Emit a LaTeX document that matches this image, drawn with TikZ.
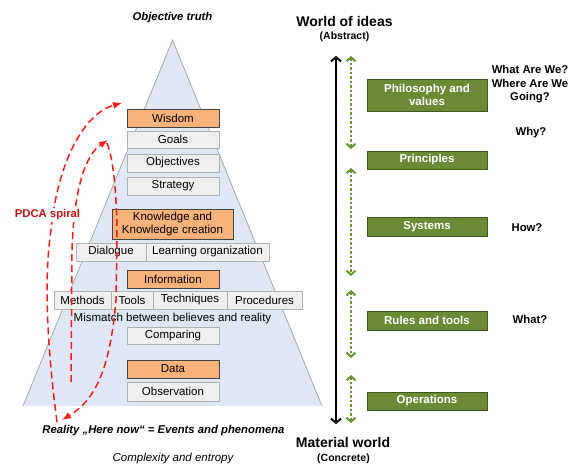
\documentclass[tikz,border=0pt]{standalone}
\usepackage{fontspec}
\setmainfont{Liberation Sans}
\usetikzlibrary{arrows.meta}
\definecolor{trifill}{HTML}{DFE7F5}
\definecolor{triedge}{HTML}{A8A8A8}
\definecolor{orfill}{HTML}{F8B27A}
\definecolor{oredge}{HTML}{434343}
\definecolor{gyfill}{HTML}{EFEFEF}
\definecolor{gyedge}{HTML}{B0B0B0}
\definecolor{grfill}{HTML}{6A8A35}
\definecolor{gredge}{HTML}{3D5A1A}
\definecolor{grdot}{HTML}{6B9334}
\definecolor{pdcared}{HTML}{FF1A1A}
\definecolor{pdcatext}{HTML}{CC1111}
\tikzset{
  base/.style={inner sep=0pt, outer sep=0pt, font=\fontsize{11.5}{13.5}\selectfont, align=center},
  obox/.style={base, draw=oredge, fill=orfill, line width=0.9pt},
  gbox/.style={base, draw=gyedge, fill=gyfill, line width=0.8pt},
  grbox/.style={base, draw=gredge, fill=grfill, line width=0.9pt, text=white, font=\fontsize{11.5}{13.5}\selectfont\bfseries, minimum width=120pt},
  lbl/.style={base},
  pdca/.style={draw=pdcared, line width=1.5pt, dash pattern=on 7pt off 4pt},
  pdcahead/.style={-{Latex[length=9pt,width=7pt]}},
  gdots/.style={draw=grdot, line width=2.4pt, dash pattern=on 2.5pt off 2pt, {Straight Barb[length=4pt,width=9pt,line width=2pt]}-{Straight Barb[length=4pt,width=9pt,line width=2pt]}},
}
\begin{document}
\begin{tikzpicture}[x=1pt,y=-1pt]
\useasboundingbox (0,0) rectangle (574,466);
% pyramid
\coordinate (apex) at (172.5,40);
\coordinate (bl) at (23,406);
\coordinate (br) at (322,406);
\fill[trifill] (apex) -- (br) -- (bl) -- cycle;
\draw[triedge, line width=0.8pt] (bl) -- (apex) -- (br);
% boxes
\node[obox, minimum width=92pt, minimum height=18pt] (wisdom) at (173,118) {Wisdom};
\node[gbox, minimum width=92pt, minimum height=17pt] (goals) at (173,139.5) {Goals};
\node[gbox, minimum width=92pt, minimum height=18pt] (objectives) at (173,163) {Objectives};
\node[gbox, minimum width=92pt, minimum height=18pt] (strategy) at (173,186) {Strategy};
\node[obox, minimum width=121pt, minimum height=30pt] (knowledge) at (172.5,224) {Knowledge and\\Knowledge creation};
\node[gbox, minimum width=70pt, minimum height=18pt] (dialogue) at (111,252) {Dialogue};
\node[gbox, minimum width=123pt, minimum height=18pt] (learning) at (207.5,252) {Learning organization};
\node[obox, minimum width=92pt, minimum height=18pt] (information) at (173,279) {Information};
\node[gbox, minimum width=57pt, minimum height=18pt] (methods) at (82.5,300) {Methods};
\node[gbox, minimum width=42pt, minimum height=18pt] (tools) at (132,300) {Tools};
\node[gbox, minimum width=74pt, minimum height=18pt] (techniques) at (190,300) {Techniques};
\node[gbox, minimum width=75pt, minimum height=18pt] (procedures) at (264.5,300) {Procedures};
\node[lbl] (mismatch) at (172.5,319) {Mismatch between believes and reality};
\node[gbox, minimum width=92pt, minimum height=17pt] (comparing) at (173,335.5) {Comparing};
\node[obox, minimum width=92pt, minimum height=18pt] (data) at (173,369) {Data};
\node[gbox, minimum width=92pt, minimum height=19pt] (observation) at (173,391.5) {Observation};
% texts
\node[lbl, font=\fontsize{11.3}{13}\selectfont\bfseries\itshape] (objtruth) at (172.5,18) {Objective truth};
\node[lbl, font=\fontsize{11.3}{13}\selectfont\bfseries\itshape] (reality) at (163.5,431) {Reality „Here now“ = Events and phenomena};
\node[lbl, font=\fontsize{11.5}{13}\selectfont\itshape] (complexity) at (173,459) {Complexity and entropy};
% PDCA spiral
\coordinate (o0) at (57,422);
\coordinate (o1) at (51,230);
\coordinate (o2) at (122,103);
\draw[pdca, pdcahead] (o0) .. controls (45,330) and (45,270) .. (o1) .. controls (58,160) and (85,113) .. (o2);
\coordinate (i0) at (71,382);
\coordinate (i1) at (72,250);
\coordinate (i2) at (108,140);
\draw[pdca, pdcahead] (i0) -- (i1) .. controls (74,190) and (85,155) .. (i2);
\coordinate (r0) at (107,143);
\coordinate (r1) at (117,240);
\coordinate (r2) at (116,300);
\coordinate (r3) at (62,420);
\draw[pdca, pdcahead] (r0) .. controls (114,160) and (117,200) .. (r1) -- (r2) .. controls (110,370) and (95,400) .. (r3);
\node[lbl, font=\fontsize{11.3}{13}\selectfont\bfseries, text=pdcatext, fill=white, inner sep=1.5pt] (pdcalbl) at (47.5,215) {PDCA spiral};
% right side
\node[lbl, font=\fontsize{14}{16}\selectfont\bfseries] (world) at (344.5,21) {World of ideas};
\node[lbl, font=\fontsize{10.5}{12}\selectfont\bfseries] (abstract) at (344.5,37) {(Abstract)};
\node[lbl, font=\fontsize{14}{16}\selectfont\bfseries] (material) at (343,442) {Material world};
\node[lbl, font=\fontsize{10.5}{12}\selectfont\bfseries] (concrete) at (343.5,459) {(Concrete)};
\coordinate (ab0) at (336,56);
\coordinate (ab1) at (336,424);
\draw[line width=2pt, {Straight Barb[length=4pt,width=10pt,line width=2pt]}-{Straight Barb[length=4pt,width=10pt,line width=2pt]}] (ab0) -- (ab1);
\coordinate (g1a) at (351,56);  \coordinate (g1b) at (351,149);
\coordinate (g2a) at (351,168); \coordinate (g2b) at (351,276);
\coordinate (g3a) at (351,290); \coordinate (g3b) at (351,358);
\coordinate (g4a) at (351,375); \coordinate (g4b) at (351,423);
\draw[gdots] (g1a) -- (g1b);
\draw[gdots] (g2a) -- (g2b);
\draw[gdots] (g3a) -- (g3b);
\draw[gdots] (g4a) -- (g4b);
\node[grbox, minimum height=32pt] (philo) at (427,95) {Philosophy and\\values};
\node[grbox, minimum height=18pt] (principles) at (427,160) {Principles};
\node[grbox, minimum height=19pt] (systems) at (427,226.5) {Systems};
\node[grbox, minimum height=19pt] (rules) at (427,320.5) {Rules and tools};
\node[grbox, minimum height=18pt] (operations) at (427,401) {Operations};
\node[lbl, font=\fontsize{11.3}{13.5}\selectfont\bfseries] (whatarewe) at (530,84.5) {What Are We?\\Where Are We\\Going?};
\node[lbl, font=\fontsize{11.3}{13}\selectfont\bfseries] (why) at (531,133) {Why?};
\node[lbl, font=\fontsize{11.3}{13}\selectfont\bfseries] (how) at (527,228) {How?};
\node[lbl, font=\fontsize{11.3}{13}\selectfont\bfseries] (what) at (530,319) {What?};
\end{tikzpicture}
\end{document}
